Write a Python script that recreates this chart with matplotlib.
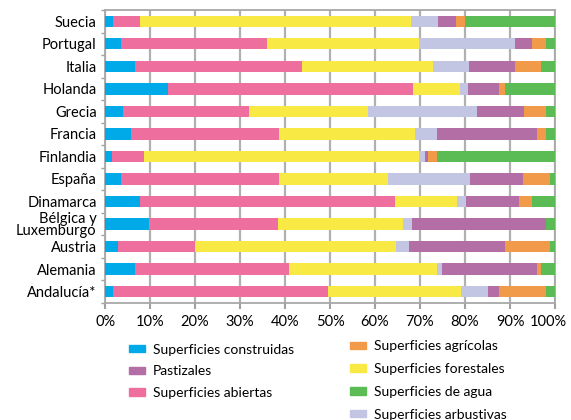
import numpy as np
import matplotlib.pyplot as plt
from matplotlib.patches import Patch

plt.rcParams['font.family'] = ['Lato', 'DejaVu Sans']

regiones = ["Suecia", "Portugal", "Italia", "Holanda", "Grecia", "Francia",
            "Finlandia", "España", "Dinamarca", "Bélgica y\nLuxemburgo",
            "Austria", "Alemania", "Andalucía*"]

# porcentajes por tipo de superficie (orden de apilado)
construidas = [1.8, 3.6, 6.7, 14.0, 4.0, 5.8, 1.6, 3.6, 7.8, 9.8, 2.9, 6.7, 1.8]
abiertas = [6.0, 32.4, 37.0, 54.4, 28.0, 32.8, 7.1, 35.0, 56.6, 28.6, 17.1, 34.2, 47.7]
forestales = [60.3, 33.7, 29.1, 10.4, 26.4, 30.2, 61.0, 24.2, 13.8, 27.8, 44.6, 32.8, 29.6]
arbustivas = [5.8, 21.3, 8.0, 1.8, 24.2, 4.9, 1.4, 18.3, 2.0, 2.0, 2.9, 1.1, 6.0]
pastizales = [4.2, 3.8, 10.2, 6.9, 10.4, 22.2, 0.6, 11.7, 11.7, 29.7, 21.3, 21.1, 2.4]
agricolas = [2.0, 3.1, 5.8, 1.3, 4.9, 2.0, 2.0, 6.0, 2.9, 0.0, 10.0, 0.9, 10.4]
agua = [19.9, 2.1, 3.2, 11.2, 2.1, 2.1, 26.3, 1.2, 5.2, 2.1, 1.2, 3.2, 2.1]

series = [
    ("Superficies construidas", construidas, "#00a9e8"),
    ("Superficies abiertas", abiertas, "#ee6f9e"),
    ("Superficies forestales", forestales, "#f9e945"),
    ("Superficies arbustivas", arbustivas, "#c3c6e3"),
    ("Pastizales", pastizales, "#b36fa5"),
    ("Superficies agrícolas", agricolas, "#f19a4a"),
    ("Superficies de agua", agua, "#5bbb55"),
]
colores = {nombre: c for nombre, _, c in series}

fig = plt.figure(figsize=(5.71, 4.2), dpi=100)
ax = fig.add_axes([0.184, 0.279, 0.788, 0.697])

y = np.arange(len(regiones))
izq = np.zeros(len(regiones))
for nombre, vals, color in series:
    vals = np.array(vals)
    ax.barh(y, vals, left=izq, height=0.5, color=color, zorder=3)
    izq += vals

ax.set_xlim(0, 100)
ax.set_ylim(len(regiones) - 0.5, -0.5)
pcts = list(range(0, 101, 10))
ax.set_xticks(pcts)
# la etiqueta "100%" va aparte, algo a la izquierda, para que no se corte
ax.set_xticklabels([f"{v}%" for v in pcts[:-1]] + [""], fontsize=10.5)
ax.annotate(f"{pcts[-1]}%", xy=(pcts[-1], 0), xycoords=('data', 'axes fraction'),
            xytext=(-4.5, -9), textcoords='offset points', ha='center', va='top',
            fontsize=10.5)
ax.set_yticks(y)
ax.set_yticklabels(regiones, fontsize=10.5, linespacing=0.9)
ax.set_yticks(np.arange(len(regiones) + 1) - 0.5, minor=True)
ax.tick_params(axis='y', which='major', length=0, pad=6)
ax.tick_params(axis='y', which='minor', length=3, color='#a0a0a0', width=1)
ax.tick_params(axis='x', length=4, color='#a0a0a0', width=1.5, pad=5)
ax.grid(axis='x', color='#b0b0b0', linewidth=1.6, zorder=0)
for s in ax.spines.values():
    s.set_color('#a8a8a8')
    s.set_linewidth(1.3)

col1 = ["Superficies construidas", "Pastizales", "Superficies abiertas"]
col2 = ["Superficies agrícolas", "Superficies forestales", "Superficies de agua",
        "Superficies arbustivas"]
for nombres, x0, y0, esp in [(col1, 0.226, 0.182, 0.7), (col2, 0.613, 0.19, 0.78)]:
    handles = [Patch(color=colores[n], label=n) for n in nombres]
    fig.legend(handles=handles, loc='upper left', bbox_to_anchor=(x0, y0),
               frameon=False, fontsize=10, handlelength=1.15, handleheight=0.45,
               handletextpad=0.55, labelspacing=esp, borderpad=0, borderaxespad=0)

fig.savefig("out.png", dpi=100)
